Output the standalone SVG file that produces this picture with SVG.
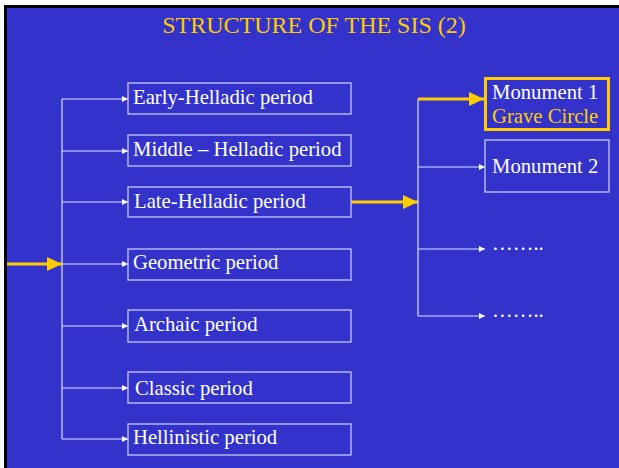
<svg xmlns="http://www.w3.org/2000/svg" width="619" height="468" viewBox="0 0 619 468">
<defs>
<style>
.box{fill:none;stroke:#c8c8f0;stroke-width:1.3}
.t{font-family:"Liberation Serif","Times New Roman",serif;font-size:20.7px;fill:#ffffff}
.y{fill:#ffcc00}
.ln{fill:none;stroke:#e0e0ff;stroke-width:1.2}
.yl{fill:none;stroke:#ffcc00;stroke-width:3.2}
</style>
<marker id="wa" viewBox="0 0 10 10" refX="10" refY="5" markerWidth="6" markerHeight="6" markerUnits="userSpaceOnUse" orient="auto">
<path d="M0,0 L10,5 L0,10 z" fill="#ffffff"/>
</marker>
<marker id="ya" viewBox="0 0 10 10" refX="10" refY="5" markerWidth="15" markerHeight="14" markerUnits="userSpaceOnUse" orient="auto" preserveAspectRatio="none">
<path d="M0,0 L10,5 L0,10 z" fill="#ffcc00"/>
</marker>
</defs>
<rect x="0" y="0" width="619" height="468" fill="#ffffff"/>
<rect x="4" y="5" width="615" height="463" fill="#000000"/>
<rect x="7" y="8" width="612" height="460" fill="#3333cc"/>
<text class="t y" x="314" y="33" text-anchor="middle" style="font-size:24px">STRUCTURE OF THE SIS (2)</text>
<g id="connectors">
<path class="ln" d="M62,99 V439"/>
<path class="ln" d="M62,99 H128" marker-end="url(#wa)"/>
<path class="ln" d="M62,151 H128" marker-end="url(#wa)"/>
<path class="ln" d="M62,202 H128" marker-end="url(#wa)"/>
<path class="ln" d="M62,264 H128" marker-end="url(#wa)"/>
<path class="ln" d="M62,326 H128" marker-end="url(#wa)"/>
<path class="ln" d="M62,388 H128" marker-end="url(#wa)"/>
<path class="ln" d="M62,439 H128" marker-end="url(#wa)"/>
<path class="yl" d="M7,264 H62" marker-end="url(#ya)"/>
<path class="yl" d="M351,202 H418" marker-end="url(#ya)"/>
<path class="ln" d="M418,99 V316"/>
<path class="yl" d="M418,99 H484" marker-end="url(#ya)"/>
<path class="ln" d="M418,167 H485" marker-end="url(#wa)"/>
<path class="ln" d="M418,249 H485" marker-end="url(#wa)"/>
<path class="ln" d="M418,316 H485" marker-end="url(#wa)"/>
</g>
<g id="early"><rect class="box" x="128" y="83" width="223" height="31"/><text class="t" x="133" y="104">Early-Helladic period</text></g>
<g id="middle"><rect class="box" x="128" y="135" width="223" height="31"/><text class="t" x="133" y="156">Middle – Helladic period</text></g>
<g id="late"><rect class="box" x="128" y="187" width="223" height="30"/><text class="t" x="134" y="208">Late-Helladic period</text></g>
<g id="geometric"><rect class="box" x="128" y="249" width="223" height="31"/><text class="t" x="133" y="269">Geometric period</text></g>
<g id="archaic"><rect class="box" x="128" y="310" width="223" height="32"/><text class="t" x="134" y="331">Archaic period</text></g>
<g id="classic"><rect class="box" x="128" y="372" width="223" height="31"/><text class="t" x="135" y="395">Classic period</text></g>
<g id="hellinistic"><rect class="box" x="128" y="424" width="223" height="31"/><text class="t" x="133" y="444">Hellinistic period</text></g>
<g id="monument1"><rect x="485.5" y="78.5" width="123" height="51" fill="none" stroke="#ffcc00" stroke-width="3"/><text class="t" x="492" y="99">Monument 1</text><text class="t y" x="492" y="123">Grave Circle</text></g>
<g id="monument2"><rect class="box" x="485" y="140" width="124" height="52"/><text class="t" x="492" y="173">Monument 2</text></g>
<g id="more1"><text class="t" x="492" y="250">……..</text></g>
<g id="more2"><text class="t" x="492" y="317">……..</text></g>
</svg>
